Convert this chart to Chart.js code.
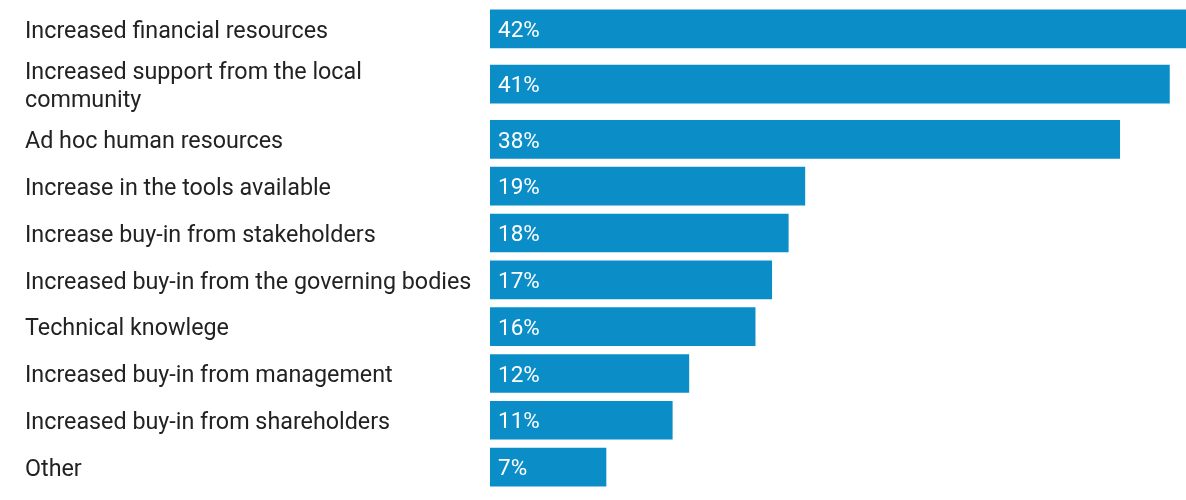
<!DOCTYPE html>
<html>
<head>
<meta charset="utf-8">
<script src="https://cdn.jsdelivr.net/npm/chart.js@4/dist/chart.umd.min.js"></script>
<style>
  html, body { margin: 0; padding: 0; background: #fff; }
  #wrap { width: 1186px; height: 500px; position: relative; }
</style>
</head>
<body>
<div id="wrap"><canvas id="barChart"></canvas></div>
<script>
// Answer categories (multi-line labels as arrays)
const categories = [
    'Increased financial resources',
    ['Increased support from the local', 'community'],
    'Ad hoc human resources',
    'Increase in the tools available',
    'Increase buy-in from stakeholders',
    'Increased buy-in from the governing bodies',
    'Technical knowlege',
    'Increased buy-in from management',
    'Increased buy-in from shareholders',
    'Other'
];

// Share of respondents (%)
const shares = [42, 41, 38, 19, 18, 17, 16, 12, 11, 7];

const barColor = '#0b8ec8';
const labelFont = "Roboto, 'Noto Sans', sans-serif";

// Category scale where rows holding wrapped labels get a bit more room
class WeightedCategoryScale extends Chart.CategoryScale {
    rowWeights() {
        return this.getLabels().map(l => Array.isArray(l) ? 1 + 0.36 * (l.length - 1) : 1);
    }
    getPixelForValue(value) {
        if (value === null || value === undefined || isNaN(value)) return NaN;
        const w = this.rowWeights();
        const total = w.reduce((a, b) => a + b, 0);
        const i = Math.max(0, Math.min(w.length - 1, Math.floor(value + 0.5)));
        let cum = 0;
        for (let k = 0; k < i; k++) cum += w[k];
        const pos = cum + w[i] / 2 + (value - i) * w[i];
        return this.top + (pos / total) * (this.bottom - this.top);
    }
    // labels sit inside their rows, so no extra room above/below the axis
    getPadding() {
        return { left: 0, top: 0, right: 0, bottom: 0 };
    }
}
WeightedCategoryScale.id = 'weightedCategory';
WeightedCategoryScale.defaults = Chart.CategoryScale.defaults;
Chart.register(WeightedCategoryScale);

// Percentage written inside the start of each bar
const valueLabels = {
    id: 'valueLabels',
    afterDatasetsDraw(chart) {
        const ctx = chart.ctx;
        const meta = chart.getDatasetMeta(0);
        ctx.save();
        ctx.fillStyle = '#ffffff';
        ctx.font = '22.5px ' + labelFont;
        ctx.textAlign = 'left';
        ctx.textBaseline = 'middle';
        meta.data.forEach((bar, i) => {
            ctx.fillText(shares[i] + '%', bar.base + 8, bar.y + 2.5);
        });
        ctx.restore();
    }
};

const ctx = document.getElementById('barChart').getContext('2d');
new Chart(ctx, {
    type: 'bar',
    data: {
        labels: categories,
        datasets: [{
            data: shares,
            backgroundColor: barColor,
            borderWidth: 0,
            barThickness: 38
        }]
    },
    options: {
        indexAxis: 'y',
        responsive: true,
        maintainAspectRatio: false,
        animation: false,
        layout: { padding: { left: 25, right: 0, top: 5.5, bottom: 9.5 } },
        plugins: {
            legend: { display: false },
            tooltip: { enabled: false }
        },
        scales: {
            x: {
                min: 0,
                max: 42,
                display: false,
                grid: { display: false }
            },
            y: {
                type: 'weightedCategory',
                grid: { display: false },
                border: { display: false },
                afterFit(scale) { scale.width = 465; },
                ticks: {
                    crossAlign: 'far',
                    labelOffset: 3,
                    color: '#222222',
                    autoSkip: false,
                    font: { family: labelFont, size: 23.3, lineHeight: 1.17 }
                }
            }
        }
    },
    plugins: [valueLabels]
});
</script>
</body>
</html>
